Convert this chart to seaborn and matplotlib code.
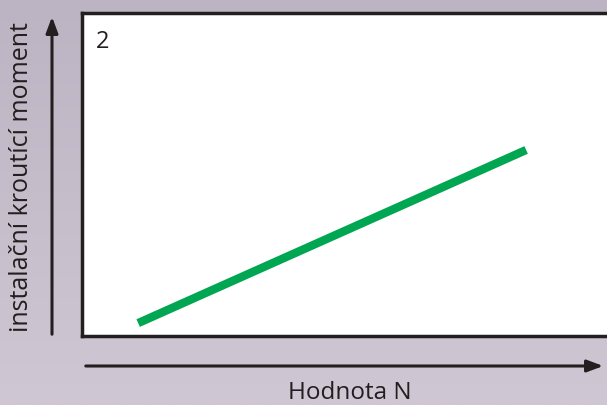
import numpy as np
import pandas as pd
import matplotlib
matplotlib.use("Agg")
import matplotlib.pyplot as plt
import seaborn as sns

# data (axis units 0..10 across the white box)
n_values = [1.07, 8.46]
torque_values = [0.4, 5.76]
panel_label = "2"
x_label = "Hodnota N"
y_label = "instalační kroutící moment"

sns.set_theme(style="white")
plt.rcParams["font.family"] = ["Open Sans", "DejaVu Sans"]

W, H = 607, 405
fig = plt.figure(figsize=(W / 100, H / 100), dpi=100)

# soft background gradient
bg = fig.add_axes([0, 0, 1, 1])
grad = np.linspace(0, 1, 256)[:, None] * np.ones((1, 256))
bg.imshow(grad, cmap=matplotlib.colors.LinearSegmentedColormap.from_list(
    "bg", ["#bcb4c2", "#cfc7d3"]), aspect="auto", extent=[0, 1, 0, 1])
bg.axis("off")

# white box (right edge runs off the figure)
left, top, bottom = 82 / W, 1 - 13 / H, 1 - 336 / H
ax = fig.add_axes([left, bottom, 1 - left, top - bottom])
ax.set_facecolor("white")
df = pd.DataFrame({"n": n_values, "torque": torque_values})
sns.lineplot(data=df, x="n", y="torque", color="#00a651", linewidth=6,
             solid_capstyle="butt", ax=ax)
ax.set_xlim(0, 10)
ax.set_ylim(0, 10)
ax.set_xticks([])
ax.set_yticks([])
ax.set_xlabel("")
ax.set_ylabel("")
for s in ax.spines.values():
    s.set_color("#231f20")
    s.set_linewidth(2.5)
ax.spines["right"].set_visible(False)
ax.text(0.026, 0.91, panel_label, transform=ax.transAxes, fontsize=17,
        color="#231f20", va="center", ha="left")

# axis arrows
style = "-|>,head_length=0.8,head_width=0.3"
fig.add_artist(matplotlib.patches.FancyArrowPatch(
    (52 / W, 1 - 337 / H), (52 / W, 1 - 14 / H), transform=fig.transFigure,
    arrowstyle=style, color="#231f20", lw=2.2, mutation_scale=12))
fig.add_artist(matplotlib.patches.FancyArrowPatch(
    (83 / W, 1 - 366 / H), (606 / W, 1 - 366 / H), transform=fig.transFigure,
    arrowstyle=style, color="#231f20", lw=2.2, mutation_scale=12))

fig.text(22 / W, 1 - 177 / H, y_label, rotation=90, fontsize=18,
         color="#231f20", ha="center", va="center")
fig.text(350 / W, 1 - 393 / H, x_label, fontsize=17.5, color="#231f20",
         ha="center", va="center")

fig.savefig("out.png", dpi=100)
